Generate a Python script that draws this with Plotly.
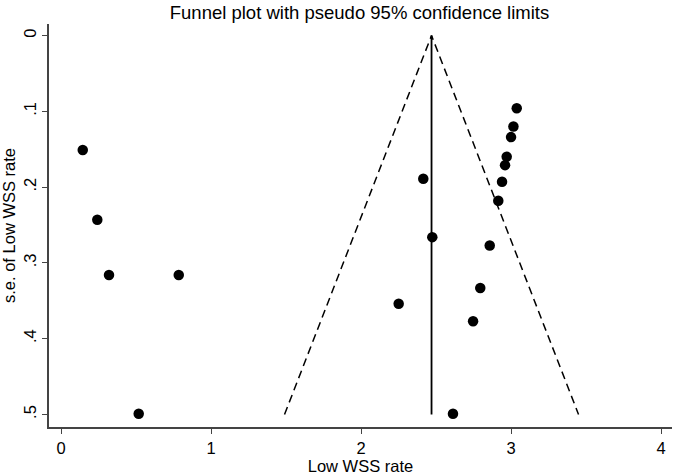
import plotly.graph_objects as go

# Study estimates (Low WSS rate) and their standard errors
effect = [0.145, 0.242, 0.320, 0.785, 0.518,
          3.038, 3.016, 3.000, 2.971, 2.960, 2.940, 2.915, 2.415,
          2.475, 2.858, 2.795, 2.251, 2.747, 2.613]
se = [0.151, 0.243, 0.316, 0.316, 0.499,
      0.096, 0.120, 0.134, 0.160, 0.171, 0.193, 0.218, 0.189,
      0.266, 0.277, 0.333, 0.354, 0.377, 0.499]

pooled = 2.47
se_max = 0.5
z = 1.96

x_ticks = [0, 1, 2, 3, 4]
x_ticktext = ["0", "1", "2", "3", "4"]
y_ticks = [0, 0.1, 0.2, 0.3, 0.4, 0.5]
y_ticktext = ["0", ".1", ".2", ".3", ".4", ".5"]

fig = go.Figure()

# pseudo 95% confidence limits
fig.add_trace(go.Scatter(
    x=[pooled - z * se_max, pooled, pooled + z * se_max],
    y=[se_max, 0, se_max],
    mode="lines",
    line=dict(color="black", width=1.5, dash="8px,5px"),
    hoverinfo="skip", showlegend=False))

# pooled estimate line
fig.add_trace(go.Scatter(
    x=[pooled, pooled], y=[0, se_max],
    mode="lines", line=dict(color="black", width=1.8),
    hoverinfo="skip", showlegend=False))

fig.add_trace(go.Scatter(
    x=effect, y=se, mode="markers",
    marker=dict(color="black", size=10.5),
    showlegend=False))

font_family = "Liberation Sans, Arial, Helvetica, sans-serif"

fig.update_layout(
    width=675, height=475,
    margin=dict(l=49, r=3, t=24, b=48),
    paper_bgcolor="white", plot_bgcolor="white",
    font=dict(family=font_family, color="black", size=17),
    title=dict(text="Funnel plot with pseudo 95% confidence limits",
               x=0.5326, xanchor="center", xref="container",
               y=1 - 13 / 475, yanchor="middle", yref="container",
               font=dict(size=18.5, family=font_family, color="black")),
    xaxis=dict(range=[-0.08, 4.073], tickvals=x_ticks, ticktext=x_ticktext,
               showgrid=False, zeroline=False, showline=True,
               linecolor="#444", linewidth=1.6, ticks="outside",
               ticklen=5, tickcolor="#444", tickfont=dict(size=16.5),
               title=dict(text="Low WSS rate", font=dict(size=16.5), standoff=4)),
    yaxis=dict(range=[0.5165, -0.0152], tickvals=y_ticks, ticktext=y_ticktext,
               showgrid=False, zeroline=False, showline=True,
               linecolor="#444", linewidth=1.6, ticks="outside",
               ticklen=5, tickcolor="#444", tickangle=-90,
               tickfont=dict(size=16.5),
               title=dict(text="s.e. of Low WSS rate", font=dict(size=16.5), standoff=3)),
)

fig.write_html("out.html",
               config={"displayModeBar": False},
               post_script="document.body.style.margin='0';document.body.style.padding='0';")
